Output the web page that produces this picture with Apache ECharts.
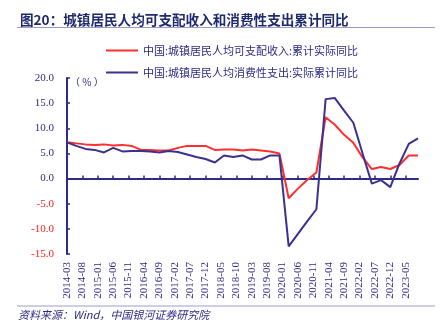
<!DOCTYPE html>
<html>
<head>
<meta charset="utf-8">
<script src="https://cdn.jsdelivr.net/npm/echarts@6/dist/echarts.min.js"></script>
<style>
html,body{margin:0;padding:0;background:#fff;}
#c{width:442px;height:329px;}
</style>
</head>
<body>
<div id="c"></div>
<script>
// Quarter-end readings (cumulative YoY, %), 2014-03 .. 2023-09
const quarters = [
  '2014-03','2014-06','2014-09','2014-12',
  '2015-03','2015-06','2015-09','2015-12',
  '2016-03','2016-06','2016-09','2016-12',
  '2017-03','2017-06','2017-09','2017-12',
  '2018-03','2018-06','2018-09','2018-12',
  '2019-03','2019-06','2019-09','2019-12',
  '2020-03','2020-06','2020-09','2020-12',
  '2021-03','2021-06','2021-09','2021-12',
  '2022-03','2022-06','2022-09','2022-12',
  '2023-03','2023-06','2023-09'
];
const incomeValues = [
  7.2, 7.0, 6.8, 6.7,
  6.8, 6.6, 6.7, 6.5,
  5.7, 5.7, 5.6, 5.6,
  6.1, 6.5, 6.5, 6.5,
  5.7, 5.8, 5.8, 5.6,
  5.8, 5.6, 5.4, 5.0,
  -3.9, -2.0, -0.3, 1.2,
  12.2, 10.7, 8.7, 7.1,
  4.2, 1.9, 2.3, 1.9,
  2.7, 4.6, 4.6
];
const consumptionValues = [
  7.2, 6.5, 5.9, 5.7,
  5.2, 6.1, 5.4, 5.5,
  5.5, 5.4, 5.2, 5.5,
  5.3, 4.8, 4.3, 3.9,
  3.2, 4.6, 4.3, 4.6,
  3.8, 3.8, 4.6, 4.6,
  -13.5, -11.0, -8.5, -6.1,
  15.8, 16.0, 13.5, 11.1,
  5.0, -1.0, -0.3, -1.7,
  3.0, 6.9, 8.0
];
const yTicks = [-15, -10, -5, 0, 5, 10, 15, 20];
const seriesNames = ['中国:城镇居民人均可支配收入:累计实际同比', '中国:城镇居民人均消费性支出:实际累计同比'];
const titleText = '图20：城镇居民人均可支配收入和消费性支出累计同比';
const sourceText = '资料来源：Wind，中国银河证券研究院';

// monthly category axis from 2014-03 to 2023-09
function buildMonths(start, end) {
  const out = [];
  let [y, m] = start.split('-').map(Number);
  const [ey, em] = end.split('-').map(Number);
  while (y < ey || (y === ey && m <= em)) {
    out.push(y + '-' + String(m).padStart(2, '0'));
    m++; if (m > 12) { m = 1; y++; }
  }
  return out;
}
const months = buildMonths(quarters[0], quarters[quarters.length - 1]);
function toPairs(vals) {
  return quarters.map((q, i) => [q, vals[i]]);
}

const NAVY = '#2E2A85';
const RED = '#FF2F2F';
const BLUE = '#3A3190';
const serif = '"Liberation Serif","DejaVu Serif",serif';
const cjk = '"Noto Sans CJK SC","Noto Sans",sans-serif';

const chart = echarts.init(document.getElementById('c'), null, {renderer: 'canvas'});
chart.setOption({
  animation: false,
  backgroundColor: '#fff',
  title: {
    text: titleText,
    left: 15, top: 8,
    textStyle: {fontFamily: cjk, fontSize: 13.6, fontWeight: 'bold', color: '#1F2A6E'}
  },
  legend: {
    orient: 'vertical',
    left: 101, top: 39,
    icon: 'rect',
    itemWidth: 32, itemHeight: 2,
    itemGap: 9,
    textStyle: {fontFamily: cjk, fontSize: 11, color: NAVY, lineHeight: 13},
    data: seriesNames
  },
  grid: {left: 67, right: 24, top: 78, bottom: 75, containLabel: false},
  xAxis: [{
    type: 'category', data: months, boundaryGap: false,
    axisLine: {onZero: true, lineStyle: {color: NAVY, width: 2}},
    axisTick: {inside: true, interval: 4, length: 3, lineStyle: {color: NAVY, width: 1.5}},
    axisLabel: {show: false},
    splitLine: {show: false}
  }, {
    type: 'category', data: months, boundaryGap: false, position: 'bottom',
    axisLine: {show: false, onZero: false},
    axisTick: {show: false},
    axisLabel: {interval: 4, rotate: 90, margin: 8, fontFamily: serif, fontSize: 11, color: NAVY},
    splitLine: {show: false}
  }],
  yAxis: {
    type: 'value', min: -15, max: 20, interval: 5,
    axisLine: {show: true, lineStyle: {color: NAVY, width: 2}},
    axisTick: {show: true, inside: true, length: 3, lineStyle: {color: NAVY, width: 1.5}},
    axisLabel: {
      margin: 13, fontFamily: serif, fontSize: 11,
      formatter: v => v.toFixed(1),
      color: v => (Number(v) < 0 ? '#FF2020' : NAVY)
    },
    splitLine: {show: false}
  },
  series: [{
    name: seriesNames[0], type: 'line', xAxisIndex: 0,
    data: toPairs(incomeValues), connectNulls: true,
    showSymbol: false, symbol: 'none',
    lineStyle: {color: RED, width: 2}, itemStyle: {color: RED}, z: 3
  }, {
    name: seriesNames[1], type: 'line', xAxisIndex: 0,
    data: toPairs(consumptionValues), connectNulls: true,
    showSymbol: false, symbol: 'none',
    lineStyle: {color: BLUE, width: 2}, itemStyle: {color: BLUE}, z: 4
  }],
  graphic: [
    {type: 'line', shape: {x1: 17, y1: 27.5, x2: 435, y2: 27.5}, style: {stroke: '#9B9BCB', lineWidth: 1.2}},
    {type: 'line', shape: {x1: 17, y1: 306, x2: 435, y2: 306}, style: {stroke: '#9B9BCB', lineWidth: 1.2}},
    {type: 'text', left: 70, top: 77, style: {text: '（ % ）', fontFamily: cjk, fontSize: 10, fill: NAVY}},
    {type: 'text', left: 18, top: 309, style: {text: sourceText, fontFamily: cjk, fontSize: 11, fontStyle: 'italic', fill: NAVY}}
  ]
});
</script>
</body>
</html>
